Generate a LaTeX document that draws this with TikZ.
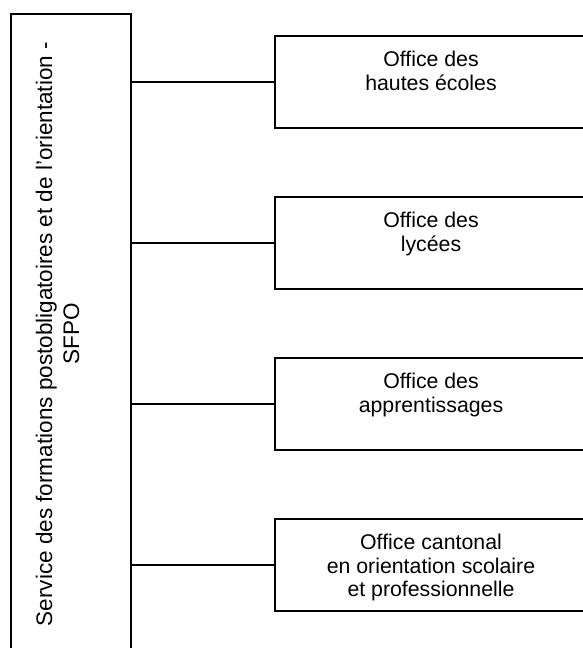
\documentclass[tikz,border=0pt]{standalone}
\usepackage{fontspec}
\setmainfont{Liberation Sans}
\begin{document}
\begin{tikzpicture}[x=1pt,y=1pt,
  line width=2pt,
  officebox/.style={draw=black, rectangle, minimum width=314pt, minimum height=92pt, inner sep=0pt, anchor=north west},
  officetext/.style={anchor=north, inner sep=0pt, align=center, font=\fontsize{21.3}{23.5}\selectfont},
  link/.style={draw=black, line width=2pt}
]
\clip (0,0) rectangle (583,-648);
\fill[white] (0,0) rectangle (583,-648);
% left tall box
\node[draw=black, rectangle, minimum width=120pt, minimum height=660pt, inner sep=0pt, anchor=north west] (sfpo) at (10,-13) {};
\node[rotate=90, inner sep=0pt, align=center, font=\fontsize{22.5}{27}\selectfont] (sfpotext) at (57.5,-334)
  {Service des formations postobligatoires et de l’orientation -\\SFPO};
% right boxes
\node[officebox] (b1) at (274,-35) {};
\node[officebox] (b2) at (274,-196) {};
\node[officebox] (b3) at (274,-357) {};
\node[officebox] (b4) at (274,-518) {};
\node[officetext] (t1) at (431,-50.5) {Office des\\hautes écoles};
\node[officetext] (t2) at (431,-211.5) {Office des\\lycées};
\node[officetext] (t3) at (431,-372.5) {Office des\\apprentissages};
\node[officetext] (t4) at (431,-533.5) {Office cantonal\\en orientation scolaire\\et professionnelle};
% connectors
\draw[link] (sfpo.east |- b1.west) -- (b1.west);
\draw[link] (sfpo.east |- b2.west) -- (b2.west);
\draw[link] (sfpo.east |- b3.west) -- (b3.west);
\draw[link] (sfpo.east |- b4.west) -- (b4.west);
\end{tikzpicture}
\end{document}
